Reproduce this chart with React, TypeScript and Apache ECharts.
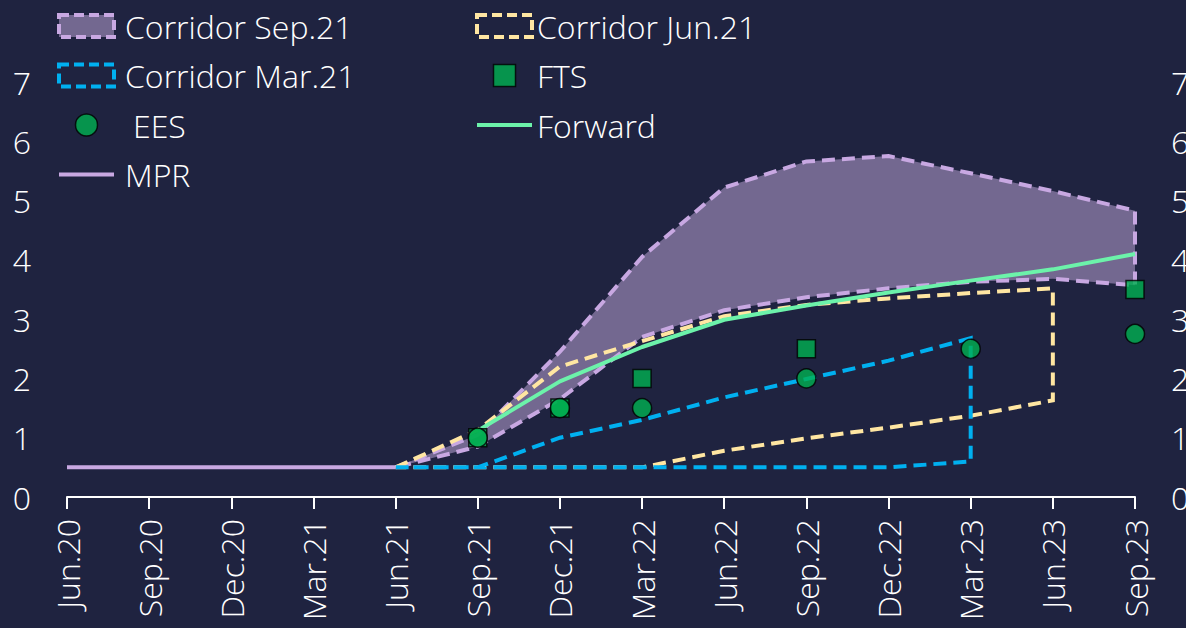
import React, { useEffect, useRef } from "react";
import * as echarts from "echarts";

const categories = [
  "Jun.20", "Sep.20", "Dec.20", "Mar.21", "Jun.21", "Sep.21", "Dec.21",
  "Mar.22", "Jun.22", "Sep.22", "Dec.22", "Mar.23", "Jun.23", "Sep.23",
];

const mpr = [0.5, 0.5, 0.5, 0.5, 0.5, null, null, null, null, null, null, null, null, null];
const forward = [null, null, null, null, null, 1.12, 1.95, 2.53, 2.99, 3.23, 3.45, 3.65, 3.84, 4.1];
const fts = [null, null, null, null, null, 1.0, 1.5, 2.0, null, 2.5, null, null, null, 3.5];
const ees = [null, null, null, null, null, 1.0, 1.5, 1.5, null, 2.0, null, 2.5, null, 2.75];

// corridors start at Jun.21 (index 4)
const corridorStart = 4;
const corrSepUpper = [0.5, 1.05, 2.45, 4.05, 5.22, 5.66, 5.75, 5.46, 5.16, 4.83];
const corrSepLower = [0.5, 0.85, 1.65, 2.7, 3.15, 3.37, 3.52, 3.63, 3.68, 3.57];
const corrJunUpper = [0.5, 1.13, 2.2, 2.63, 3.05, 3.24, 3.35, 3.44, 3.52];
const corrJunLower = [0.5, 0.5, 0.5, 0.5, 0.78, 0.99, 1.17, 1.37, 1.63];
const corrMarUpper = [0.5, 0.5, 1.0, 1.3, 1.68, 1.99, 2.3, 2.68];
const corrMarLower = [0.5, 0.5, 0.5, 0.5, 0.5, 0.5, 0.5, 0.6];

const BG = "#1f2340";
const PURPLE = "#c8a8e2";
const PURPLE_FILL = "#736890";
const YELLOW = "#ffe6a2";
const BLUE = "#00b0f0";
const GREEN_LINE = "#6cf2aa";
const MARKER = "#00b050";
const FONT = "Open Sans";
const TEXT = "#ffffff";
const FS = 32;
const DASH = [13, 7];

function corridorSeries(name: string, upper: number[], lower: number[], stroke: string, fill: string, z: number) {
  const rows = upper.map((u, i) => [corridorStart + i, u, lower[i]]);
  return {
    type: "custom",
    name,
    z,
    coordinateSystem: "cartesian2d",
    data: rows,
    encode: { x: 0, y: [1, 2] },
    silent: true,
    renderItem: (params: any, api: any) => {
      if (params.dataIndex !== 0) return null;
      const pts: number[][] = [];
      rows.forEach((r) => pts.push(api.coord([r[0], r[1]])));
      for (let i = rows.length - 1; i >= 0; i--) pts.push(api.coord([rows[i][0], rows[i][2]]));
      return {
        type: "polygon",
        shape: { points: pts },
        style: { fill, stroke, lineWidth: 4, lineDash: DASH },
      };
    },
  };
}

export default function App() {
  const ref = useRef<HTMLDivElement>(null);
  useEffect(() => {
    document.body.style.margin = "0";
    const chart = echarts.init(ref.current!, null, { renderer: "svg" });
    const textStyle = { color: TEXT, fontSize: FS, fontFamily: FONT, fontWeight: 300, lineHeight: 34 };
    const rectIcon = (border: string, fill: string) => ({
      color: fill,
      borderColor: border,
      borderWidth: 4,
      borderType: [10, 5],
    });
    const barIcon = "path://M0,0H14V1H0Z";
    chart.setOption({
      animation: false,
      backgroundColor: BG,
      grid: { left: 67, right: 51, top: 82, bottom: 131, outerBoundsMode: "none" },
      legend: [
        {
          orient: "vertical",
          left: 57,
          top: 9,
          padding: 0,
          itemWidth: 55,
          itemHeight: 22,
          itemGap: 15.5,
          selectedMode: false,
          textStyle: { ...textStyle, padding: [0, 0, 0, 6] },
          data: [
            { name: "Corridor Sep.21", icon: "rect", itemStyle: rectIcon(PURPLE, PURPLE_FILL) },
            { name: "Corridor Mar.21", icon: "rect", itemStyle: rectIcon(BLUE, "rgba(0,0,0,0)") },
            {
              name: "EES",
              icon: "circle",
              itemStyle: { color: MARKER, borderColor: "#000", borderWidth: 1.5 },
              textStyle: { ...textStyle, padding: [0, 0, 0, 14] },
            },
            { name: "MPR", icon: barIcon, itemStyle: { color: PURPLE, borderWidth: 0 } },
          ],
        },
        {
          orient: "vertical",
          left: 475,
          top: 9,
          padding: 0,
          itemWidth: 55,
          itemHeight: 22,
          itemGap: 15.5,
          selectedMode: false,
          textStyle,
          data: [
            { name: "Corridor Jun.21", icon: "rect", itemStyle: rectIcon(YELLOW, "rgba(0,0,0,0)") },
            {
              name: "FTS",
              icon: "path://M0,0L1,0L1,1L0,1Z",
              itemStyle: { color: MARKER, borderColor: "#000", borderWidth: 1.5 },
            },
            { name: "Forward", icon: barIcon, itemStyle: { color: GREEN_LINE, borderWidth: 0 } },
          ],
        },
      ],
      xAxis: {
        type: "category",
        data: categories,
        boundaryGap: false,
        axisLine: { lineStyle: { color: TEXT, width: 2 } },
        axisTick: { alignWithLabel: true, length: 12, lineStyle: { color: TEXT, width: 2 } },
        axisLabel: { rotate: 90, color: TEXT, fontSize: FS, fontFamily: FONT, fontWeight: 300, margin: 22, interval: 0 },
        splitLine: { show: false },
      },
      yAxis: [
        {
          type: "value",
          min: 0,
          max: 7,
          interval: 1,
          axisLine: { show: false },
          axisTick: { show: false },
          splitLine: { show: false },
          axisLabel: { color: TEXT, fontSize: FS, fontFamily: FONT, fontWeight: 300, margin: 36 },
        },
        {
          type: "value",
          min: 0,
          max: 7,
          interval: 1,
          position: "right",
          axisLine: { show: false },
          axisTick: { show: false },
          splitLine: { show: false },
          axisLabel: { color: TEXT, fontSize: FS, fontFamily: FONT, fontWeight: 300, margin: 36 },
        },
      ],
      series: [
        corridorSeries("Corridor Sep.21", corrSepUpper, corrSepLower, PURPLE, PURPLE_FILL, 1),
        corridorSeries("Corridor Jun.21", corrJunUpper, corrJunLower, YELLOW, "none", 2),
        corridorSeries("Corridor Mar.21", corrMarUpper, corrMarLower, BLUE, "none", 4),
        {
          type: "scatter",
          name: "FTS",
          data: fts,
          symbol: "rect",
          symbolSize: 18,
          itemStyle: { color: MARKER, borderColor: "#000", borderWidth: 1.5 },
          z: 6,
        },
        {
          type: "scatter",
          name: "EES",
          data: ees,
          symbol: "circle",
          symbolSize: 19,
          itemStyle: { color: MARKER, borderColor: "#000", borderWidth: 1.5 },
          z: 7,
        },
        {
          type: "line",
          name: "Forward",
          data: forward,
          showSymbol: false,
          symbol: "none",
          lineStyle: { color: GREEN_LINE, width: 4 },
          itemStyle: { color: GREEN_LINE },
          z: 3,
        },
        {
          type: "line",
          name: "MPR",
          data: mpr,
          showSymbol: false,
          symbol: "none",
          lineStyle: { color: PURPLE, width: 4 },
          itemStyle: { color: PURPLE },
          z: 5,
        },
      ],
    });
    return () => chart.dispose();
  }, []);
  return <div ref={ref} style={{ position: "fixed", left: 0, top: 0, width: 1186, height: 628 }} />;
}
